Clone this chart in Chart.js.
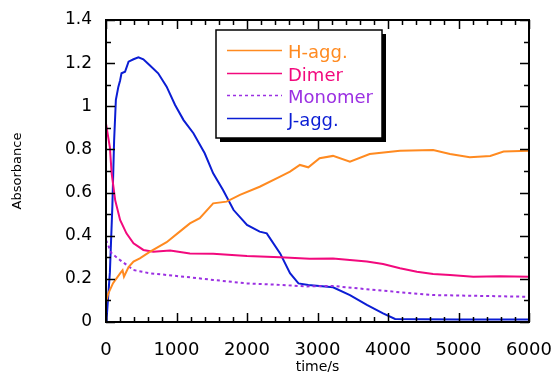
<!DOCTYPE html>
<html>
<head>
<meta charset="utf-8">
<script src="https://cdn.jsdelivr.net/npm/chart.js@4.4.1/dist/chart.umd.min.js"></script>
<style>
  html, body { margin: 0; padding: 0; background: #ffffff; }
  #wrap { width: 556px; height: 372px; }
</style>
</head>
<body>
<div id="wrap"><canvas id="c" width="556" height="372"></canvas></div>
<script>
// ---- data ----
const seriesNames = ['H-agg.', 'Dimer', 'Monomer', 'J-agg.'];
const seriesColors = ['#ff8a20', '#f2097d', '#9b30e2', '#0b1dd4'];

const hTime = [0, 30, 100, 200, 235, 255, 320, 390, 480, 620, 860, 1050, 1190, 1330, 1520, 1710, 1900, 2180, 2470, 2610, 2750, 2870, 3030, 3220, 3460, 3740, 4170, 4640, 4880, 5160, 5450, 5640, 6000];
const hAbs  = [0.09, 0.13, 0.18, 0.225, 0.24, 0.21, 0.255, 0.28, 0.295, 0.325, 0.37, 0.42, 0.457, 0.481, 0.55, 0.558, 0.589, 0.627, 0.674, 0.697, 0.728, 0.717, 0.759, 0.77, 0.743, 0.779, 0.794, 0.797, 0.779, 0.764, 0.77, 0.79, 0.794];

const dTime = [0, 55, 80, 130, 200, 290, 390, 530, 670, 910, 1190, 1520, 2000, 2470, 2890, 3220, 3700, 3930, 4170, 4410, 4640, 4880, 5210, 5590, 6000];
const dAbs  = [0.92, 0.81, 0.69, 0.565, 0.473, 0.411, 0.365, 0.334, 0.326, 0.331, 0.318, 0.316, 0.306, 0.3, 0.293, 0.294, 0.28, 0.269, 0.249, 0.233, 0.223, 0.218, 0.21, 0.212, 0.21];

const mTime = [0, 80, 200, 390, 620, 860, 1190, 1520, 2000, 2470, 2850, 3220, 3700, 4170, 4640, 5120, 6000];
const mAbs  = [0.38, 0.318, 0.287, 0.241, 0.226, 0.218, 0.207, 0.195, 0.179, 0.172, 0.165, 0.167, 0.152, 0.138, 0.125, 0.122, 0.117];

const jTime = [0, 10, 55, 90, 115, 140, 175, 200, 220, 270, 320, 390, 460, 530, 620, 740, 860, 980, 1100, 1240, 1400, 1520, 1660, 1810, 2000, 2180, 2280, 2470, 2610, 2730, 2870, 3220, 3460, 3700, 3930, 4100, 4500, 5000, 5500, 6000];
const jAbs  = [0, 0.02, 0.23, 0.535, 0.84, 1.03, 1.09, 1.12, 1.153, 1.16, 1.207, 1.218, 1.227, 1.218, 1.19, 1.153, 1.091, 1.006, 0.936, 0.875, 0.782, 0.689, 0.612, 0.519, 0.45, 0.419, 0.411, 0.318, 0.226, 0.179, 0.172, 0.161, 0.125, 0.079, 0.04, 0.014, 0.013, 0.012, 0.012, 0.012];

const xTickLabels = ['0', '1000', '2000', '3000', '4000', '5000', '6000'];
const yTickLabels = ['0', '0.2', '0.4', '0.6', '0.8', '1', '1.2', '1.4'];
const xTitle = 'time/s';
const yTitle = 'Absorbance';

// ---- build datasets ----
function pts(t, v) { return t.map((x, i) => ({ x: x, y: v[i] })); }
const allTimes = [hTime, dTime, mTime, jTime];
const allVals = [hAbs, dAbs, mAbs, jAbs];
const datasets = seriesNames.map((name, i) => ({
  label: name,
  data: pts(allTimes[i], allVals[i]),
  borderColor: seriesColors[i],
  backgroundColor: seriesColors[i],
  borderWidth: 2,
  borderDash: name === 'Monomer' ? [3, 3] : [],
  pointRadius: 0,
  tension: 0,
  fill: false
}));

const FONT = "'DejaVu Sans', sans-serif";

const framePlugin = {
  id: 'frame',
  afterDatasetsDraw(chart) {
    const ctx = chart.ctx;
    const a = chart.chartArea;
    const xs = chart.scales.x, ys = chart.scales.y;
    ctx.save();
    // frame
    ctx.strokeStyle = '#000';
    ctx.lineWidth = 2;
    ctx.strokeRect(a.left, a.top, a.right - a.left, a.bottom - a.top);
    // ticks (inside)
    ctx.lineWidth = 1.5;
    ctx.beginPath();
    for (let v = 0; v <= 6000; v += 200) {
      const px = Math.round(xs.getPixelForValue(v)) + 0.5;
      const len = (v % 1000 === 0) ? 9 : 5;
      ctx.moveTo(px, a.bottom); ctx.lineTo(px, a.bottom - len);
      ctx.moveTo(px, a.top); ctx.lineTo(px, a.top + len);
    }
    for (let k = 0; k <= 14; k++) {
      const py = Math.round(ys.getPixelForValue(k / 10)) + 0.5;
      const len = (k % 2 === 0) ? 9 : 5;
      ctx.moveTo(a.left, py); ctx.lineTo(a.left + len, py);
      ctx.moveTo(a.right, py); ctx.lineTo(a.right - len, py);
    }
    ctx.stroke();

    // legend box with drop shadow
    const bx = a.left + 110, by = a.top + 10, bw = 166, bh = 108;
    ctx.fillStyle = '#000';
    ctx.fillRect(bx + 4, by + 4, bw, bh);
    ctx.fillStyle = '#fff';
    ctx.fillRect(bx, by, bw, bh);
    ctx.lineWidth = 1.5;
    ctx.strokeStyle = '#000';
    ctx.strokeRect(bx, by, bw, bh);
    ctx.font = '18px ' + FONT;
    ctx.textAlign = 'left';
    ctx.textBaseline = 'alphabetic';
    chart.data.datasets.forEach((ds, i) => {
      const ly = by + 20 + i * 22.6;
      ctx.strokeStyle = ds.borderColor;
      ctx.lineWidth = 1.5;
      ctx.setLineDash(ds.borderDash || []);
      ctx.beginPath();
      ctx.moveTo(bx + 11, Math.round(ly) + 0.5);
      ctx.lineTo(bx + 66, Math.round(ly) + 0.5);
      ctx.stroke();
      ctx.setLineDash([]);
      ctx.fillStyle = ds.borderColor;
      ctx.fillText(ds.label, bx + 72, ly + 8);
    });
    ctx.restore();
  }
};

new Chart(document.getElementById('c'), {
  type: 'line',
  data: { datasets: datasets },
  plugins: [framePlugin],
  options: {
    responsive: false,
    animation: false,
    layout: { padding: { left: 0, right: 27, top: 20, bottom: 0 } },
    plugins: { legend: { display: false }, tooltip: { enabled: false } },
    scales: {
      x: {
        type: 'linear',
        min: 0, max: 6000,
        grid: { display: false, drawTicks: false },
        border: { display: false },
        ticks: {
          stepSize: 1000,
          maxRotation: 0,
          padding: 18,
          color: '#000',
          font: { family: FONT, size: 18 },
          callback: (v) => xTickLabels[Math.round(v / 1000)]
        },
        title: { display: true, text: xTitle, color: '#000', font: { family: FONT, size: 14 }, padding: { top: 0, bottom: -4 } },
        afterFit: (s) => { s.height = 50; s.paddingLeft = 0; s.paddingRight = 0; s.paddingTop = 0; s.paddingBottom = 0; }
      },
      y: {
        type: 'linear',
        min: 0, max: 1.4,
        grid: { display: false, drawTicks: false },
        border: { display: false },
        ticks: {
          stepSize: 0.2,
          padding: 14,
          color: '#000',
          font: { family: FONT, size: 17 },
          callback: (v) => yTickLabels[Math.round(v / 0.2)]
        },
        title: { display: true, text: yTitle, color: '#000', font: { family: FONT, size: 13 }, padding: { top: 10, bottom: 0 } },
        afterFit: (s) => { s.width = 106; s.paddingLeft = 0; s.paddingRight = 0; s.paddingTop = 0; s.paddingBottom = 0; }
      }
    }
  }
});
</script>
</body>
</html>
